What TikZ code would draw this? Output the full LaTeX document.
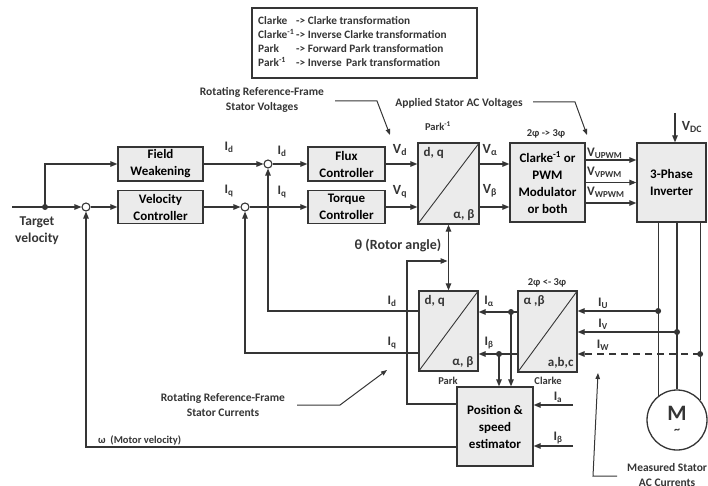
\documentclass[tikz,border=0pt]{standalone}
\usepackage{fontspec}
\setmainfont{Carlito}
\usetikzlibrary{arrows.meta,calc}
\definecolor{lc}{HTML}{353535}
\definecolor{bf}{HTML}{EBEBEB}
\newcommand{\lsub}[1]{\textsubscript{#1}}
\newcommand{\lsup}[1]{\textsuperscript{#1}}
\begin{document}
\begin{tikzpicture}[x=1pt,y=-1pt,
  line/.style={draw=lc,line width=1.2pt},
  arr/.style={line,-{Triangle[length=7pt,width=5.5pt]}},
  aarr/.style={draw=lc,line width=1pt,-{Triangle[length=6pt,width=4.5pt]}},
  blk/.style={draw=lc,fill=bf,line width=1.3pt,align=center,inner sep=0pt,
    font=\fontsize{13}{17}\selectfont\bfseries},
  sumc/.style={circle,draw=lc,fill=white,line width=1.1pt,minimum size=8pt,inner sep=0pt},
  lab/.style={font=\fontsize{13}{13}\selectfont\bfseries,text=lc,inner sep=0pt},
  vlab/.style={font=\fontsize{14}{14}\selectfont\bfseries,text=lc,inner sep=0pt},
  small/.style={font=\fontsize{10.5}{12}\selectfont\bfseries,text=lc,inner sep=0pt},
  ann/.style={font=\fontsize{11.5}{15}\selectfont\bfseries,text=lc,align=center,inner sep=0pt},
  diag/.style={draw=lc,line width=0.9pt},
  dot/.style={fill=lc}
]
\useasboundingbox (0,0) rectangle (708,486);

% legend
\draw[lc,line width=1.3pt] (252,8) rectangle (477,78);
\node[anchor=west,text=lc,inner sep=0pt,font=\fontsize{11.3}{14}\selectfont\bfseries] (leg) at (258,43)
 {\begin{tabular}{@{}l@{\,}l@{}}
  Clarke & -> Clarke transformation\\
  Clarke\lsup{-1} & -> Inverse Clarke transformation\\
  Park & -> Forward Park transformation\\
  Park\lsup{-1} & -> Inverse\, Park transformation
 \end{tabular}};

% blocks
\node[blk,minimum width=85,minimum height=34] (FW) at (160.5,164) {Field\\Weakening};
\node[blk,minimum width=85,minimum height=33] (VC) at (160.5,207) {Velocity\\Controller};
\node[blk,minimum width=77,minimum height=34] (FC) at (346.5,164) {Flux\\Controller};
\node[blk,minimum width=77,minimum height=33] (TC) at (346.5,207) {Torque\\Controller};
\node[blk,minimum width=61,minimum height=81] (IP) at (448.5,183.5) {};
\node[blk,minimum width=75,minimum height=79] (IC) at (547.5,182.5) {Clarke\lsup{-1} or\\PWM\\Modulator\\or both};
\node[blk,minimum width=69,minimum height=79] (INV) at (671.5,182.5) {3-Phase\\Inverter};
\node[blk,minimum width=59,minimum height=80] (PK) at (448.5,331) {};
\node[blk,minimum width=59,minimum height=81] (CK) at (547.5,331.5) {};
\node[blk,minimum width=76,minimum height=79] (EST) at (495,426.5) {Position \&\\speed\\estimator};
\node[circle,draw=lc,fill=white,line width=1.3pt,minimum size=60pt,inner sep=0pt] (M) at (677,420) {};
\node[font=\fontsize{22}{22}\selectfont\bfseries,text=lc,inner sep=0pt] (Mt) at (677,413) {M};
\node[font=\fontsize{12}{12}\selectfont\bfseries,text=lc,inner sep=0pt] (Mw) at (677,431) {\char`\~};

% transform box diagonals and texts
\draw[diag] (IP.south west) -- (IP.north east);
\draw[diag] (PK.south west) -- (PK.north east);
\draw[diag] (CK.south west) -- (CK.north east);
\node[lab,anchor=north west] (IPt) at ($(IP.north west)+(6,5)$) {d, q};
\node[lab,anchor=south east] (IPb) at ($(IP.south east)+(-5,-4)$) {α, β};
\node[lab,anchor=north west] (PKt) at ($(PK.north west)+(6,5)$) {d, q};
\node[lab,anchor=south east] (PKb) at ($(PK.south east)+(-5,-4)$) {α, β};
\node[lab,anchor=north west] (CKt) at ($(CK.north west)+(6,5)$) {α ,β};
\node[lab,anchor=south east] (CKb) at ($(CK.south east)+(-4,-4)$) {a,b,c};

% summing junctions
\node[sumc] (S0) at (86,207) {};
\node[sumc] (S1) at (245,207) {};
\node[sumc] (S2) at (268,164) {};

% forward path
\coordinate (TV) at (12,207);
\coordinate (D0) at (45,207);
\draw[line] (TV) -- (D0);
\draw[arr] (D0) -- (S0);
\draw[arr] (D0) |- (FW.west);
\fill[dot] (D0) circle (3pt);
\draw[arr] (S0) -- (VC.west);
\draw[arr] (FW.east) -- (S2);
\draw[arr] (VC.east) -- (S1);
\draw[arr] (S2) -- (FC.west);
\draw[arr] (S1) -- (TC.west);
\draw[arr] (FC.east) -- (FC.east -| IP.west);
\draw[arr] (TC.east) -- (TC.east -| IP.west);
\draw[arr] (IP.east |- FC.east) -- (IC.west |- FC.east);
\draw[arr] (IP.east |- TC.east) -- (IC.west |- TC.east);
\draw[arr] ([yshift=22.5pt]IC.east) -- ([yshift=22.5pt]INV.west);
\draw[arr] (IC.east) -- (INV.west);
\draw[arr] ([yshift=-20.5pt]IC.east) -- ([yshift=-20.5pt]INV.west);
\coordinate (VDC) at (675,113);
\draw[arr] (VDC) -- (VDC |- INV.north);

% motor phases
\draw[line] (M.128.3 |- INV.south) -- (M.128.3);
\draw[line] (M.north |- INV.south) -- (M.north);
\draw[line] (M.41.4 |- INV.south) -- (M.41.4);
\coordinate (DU) at (M.128.3 |- 0,311);
\coordinate (DV) at (M.north |- 0,332);
\coordinate (DW) at (M.41.4 |- 0,354);
\draw[arr] (DU) -- (DU -| CK.east);
\draw[arr] (DV) -- (DV -| CK.east);
\draw[arr,dashed,dash pattern=on 7pt off 5pt] (DW) -- (DW -| CK.east);
\fill[dot] (DU) circle (3pt);
\fill[dot] (DV) circle (3pt);
\fill[dot] (DW) circle (3pt);

% clarke -> park
\coordinate (DA) at (511,312);
\coordinate (DB) at (499,354);
\draw[line] (DA -| CK.west) -- (DA);
\draw[arr] (DA) -- (DA -| PK.east);
\draw[line] (DB -| CK.west) -- (DB);
\draw[arr] (DB) -- (DB -| PK.east);
\draw[arr] (DA) -- (DA |- EST.north);
\draw[arr] (DB) -- (DB |- EST.north);
\fill[dot] (DA) circle (3pt);
\fill[dot] (DB) circle (3pt);

% rotor angle
\coordinate (EA) at (407,404);
\coordinate (TH) at (447.5,261);
\draw[arr] (EA -| EST.west) -- (EA) |- (TH);
\draw[line,{Triangle[length=7pt,width=5.5pt]}-{Triangle[length=7pt,width=5.5pt]}] (IP.south) -- (PK.north);

% feedback loops
\coordinate (WC) at (86,447);
\draw[arr] (WC -| EST.west) -- (WC) -- (S0.south);
\coordinate (FD) at (268,311);
\draw[arr] (FD -| PK.west) -- (FD) -- (S2.south);
\coordinate (FQ) at (245,353);
\draw[arr] (FQ -| PK.west) -- (FQ) -- (S1.south);

% estimator inputs
\coordinate (EIa) at (573,405);
\coordinate (EIb) at (573,446);
\draw[arr] (EIa) -- (EIa -| EST.east);
\draw[arr] (EIb) -- (EIb -| EST.east);

% labels
\node[font=\fontsize{13.5}{17}\selectfont\bfseries,text=lc,inner sep=0pt,align=center] (tvl) at (37,231) {Target\\velocity};
\node[lab] (l1) at (229,147) {I\lsub{d}};
\node[lab] (l2) at (229,191) {I\lsub{q}};
\node[lab] (l3) at (282,151) {I\lsub{d}};
\node[lab] (l4) at (282,192) {I\lsub{q}};
\node[vlab] (l5) at (400,150) {V\lsub{d}};
\node[vlab] (l6) at (400,192) {V\lsub{q}};
\node[vlab] (l7) at (490,150) {V\lsub{α}};
\node[vlab] (l8) at (490,191) {V\lsub{β}};
\node[lab,anchor=west] (l9) at (587,153) {V\lsub{UPWM}};
\node[lab,anchor=west] (l10) at (587,172) {V\lsub{VPWM}};
\node[lab,anchor=west] (l11) at (587,192) {V\lsub{WPWM}};
\node[vlab] (l12) at (692,127) {V\lsub{DC}};
\node[small] (l13) at (438,126) {Park\lsup{-1}};
\node[small] (l14) at (546,134) {2φ -> 3φ};
\node[vlab] (l15) at (398,245) {θ (Rotor angle)};
\node[lab] (l16) at (392,301) {I\lsub{d}};
\node[lab] (l17) at (392,343) {I\lsub{q}};
\node[lab] (l18) at (489,301) {I\lsub{α}};
\node[lab] (l19) at (489,343) {I\lsub{β}};
\node[lab] (l20) at (603,303) {I\lsub{U}};
\node[lab] (l21) at (603,324) {I\lsub{V}};
\node[lab] (l22) at (603,345) {I\lsub{W}};
\node[small] (l23) at (547,283) {2φ <- 3φ};
\node[small] (l24) at (448,381) {Park};
\node[small] (l25) at (548,381) {Clarke};
\node[lab] (l26) at (558,397) {I\lsub{a}};
\node[lab] (l27) at (558,438) {I\lsub{β}};
\node[small,anchor=west] (l28) at (98,440) {ω\ \ (Motor velocity)};

% annotations
\node[ann] (A1) at (262,100) {Rotating Reference-Frame\\Stator Voltages};
\coordinate (A1a) at (335,101); \coordinate (A1b) at (377,101); \coordinate (A1c) at (390,135);
\draw[aarr] (A1a) -- (A1b) -- (A1c);
\node[ann] (A2) at (459,103) {Applied Stator AC Voltages};
\coordinate (A2a) at (533,102); \coordinate (A2b) at (575,102); \coordinate (A2c) at (587,135);
\draw[aarr] (A2a) -- (A2b) -- (A2c);
\node[ann] (A3) at (223,405) {Rotating Reference-Frame\\Stator Currents};
\coordinate (A3a) at (297,405); \coordinate (A3b) at (340,405); \coordinate (A3c) at (387,370);
\draw[aarr] (A3a) -- (A3b) -- (A3c);
\node[ann,anchor=west] (A4) at (627,475) {Measured Stator\\AC Currents};
\coordinate (A4a) at (617,476); \coordinate (A4b) at (593,476); \coordinate (A4c) at (598,373);
\draw[aarr] (A4a) -- (A4b) -- (A4c);
\end{tikzpicture}
\end{document}
